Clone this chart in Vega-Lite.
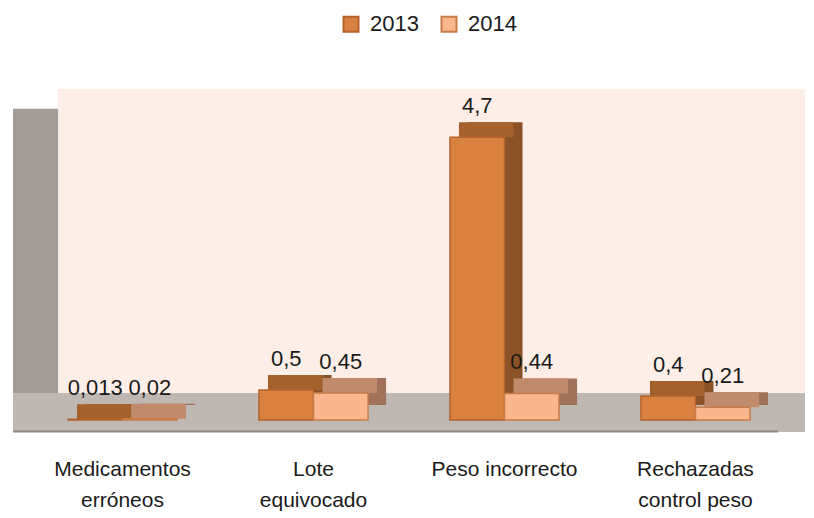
{
  "$schema": "https://vega.github.io/schema/vega-lite/v6.json",
  "width": 792,
  "height": 343,
  "autosize": {"type": "none"},
  "padding": {"left": 13, "top": 89, "right": 9, "bottom": 86},
  "background": "white",
  "config": {
    "view": {"stroke": null},
    "font": "Liberation Sans",
    "locale": {"number": {"decimal": ",", "thousands": ".", "grouping": [3], "currency": ["", " €"]}}
  },
  "data": {"values": [
    {"cat": "Medicamentos erróneos", "year": "2013", "value": 0.013},
    {"cat": "Medicamentos erróneos", "year": "2014", "value": 0.02},
    {"cat": "Lote equivocado", "year": "2013", "value": 0.5},
    {"cat": "Lote equivocado", "year": "2014", "value": 0.45},
    {"cat": "Peso incorrecto", "year": "2013", "value": 4.7},
    {"cat": "Peso incorrecto", "year": "2014", "value": 0.44},
    {"cat": "Rechazadas control peso", "year": "2013", "value": 0.4},
    {"cat": "Rechazadas control peso", "year": "2014", "value": 0.21}
  ]},
  "resolve": {"scale": {"x": "independent"}},
  "layer": [
    {
      "data": {"values": [{}]},
      "layer": [
        {"mark": {"type": "rect", "color": "#FDEEE7"},
         "encoding": {
           "x": {"datum": 5.7, "type": "quantitative", "scale": {"domain": [0, 100], "nice": false, "zero": false}, "axis": null},
           "x2": {"datum": 100},
           "y": {"datum": 0.45, "type": "quantitative", "scale": {"domain": [-0.2, 5.5], "nice": false, "zero": false}, "axis": null},
           "y2": {"datum": 5.5}}},
        {"mark": {"type": "rect", "color": "#A39C98"},
         "encoding": {
           "x": {"datum": 0, "type": "quantitative", "scale": {"domain": [0, 100], "nice": false, "zero": false}, "axis": null},
           "x2": {"datum": 5.7},
           "y": {"datum": 0.1, "type": "quantitative", "scale": {"domain": [-0.2, 5.5], "nice": false, "zero": false}, "axis": null},
           "y2": {"datum": 5.17}}},
        {"mark": {"type": "rect", "color": "#BFB7B2"},
         "encoding": {
           "x": {"datum": 0, "type": "quantitative", "scale": {"domain": [0, 100], "nice": false, "zero": false}, "axis": null},
           "x2": {"datum": 100},
           "y": {"datum": -0.2, "type": "quantitative", "scale": {"domain": [-0.2, 5.5], "nice": false, "zero": false}, "axis": null},
           "y2": {"datum": 0.45}}},
        {"mark": {"type": "rule", "color": "#8E8986", "strokeWidth": 2},
         "encoding": {
           "x": {"datum": 0, "type": "quantitative", "scale": {"domain": [0, 100], "nice": false, "zero": false}, "axis": null},
           "x2": {"datum": 96.6},
           "y": {"datum": -0.19, "type": "quantitative", "scale": {"domain": [-0.2, 5.5], "nice": false, "zero": false}, "axis": null}}}
      ]
    },
    {
      "resolve": {"scale": {"xOffset": "independent"}},
      "encoding": {
        "x": {"field": "cat", "type": "nominal",
              "sort": ["Medicamentos erróneos", "Lote equivocado", "Peso incorrecto", "Rechazadas control peso"],
              "scale": {"paddingInner": 0.429, "paddingOuter": 0.288},
              "axis": {"title": null, "domain": false, "ticks": false, "labelAngle": 0, "labelFontSize": 21,
                       "labelFont": "Liberation Sans", "labelColor": "#1a1a1a", "labelPadding": 26,
                       "labelBaseline": "top", "labelLineHeight": 31,
                       "labelExpr": "datum.value == 'Medicamentos erróneos' ? ['Medicamentos', 'erróneos'] : datum.value == 'Lote equivocado' ? ['Lote', 'equivocado'] : datum.value == 'Rechazadas control peso' ? ['Rechazadas', 'control peso'] : datum.label"}},
        "y": {"field": "value", "type": "quantitative", "scale": {"domain": [-0.2, 5.5], "nice": false, "zero": false}, "axis": null}
      },
      "layer": [
        {"mark": {"type": "bar", "yOffset": -15, "y2Offset": -15},
         "encoding": {
           "xOffset": {"field": "year", "type": "nominal", "scale": {"paddingInner": 0, "paddingOuter": 0, "range": [18, 127.1]}},
           "y2": {"datum": 0},
           "fill": {"condition": {"test": "datum.year == '2013'", "value": "#8C5227"}, "value": "#A07259"}}},
        {"mark": {"type": "bar", "yOffset": -15},
         "encoding": {
           "xOffset": {"field": "year", "type": "nominal", "scale": {"paddingInner": 0, "paddingOuter": 0, "range": [9, 118.1]}},
           "y2": {"field": "value"},
           "fill": {"condition": {"test": "datum.year == '2013'", "value": "#A4612C"}, "value": "#C08A6C"}}},
        {"mark": {"type": "bar", "strokeWidth": 1.5},
         "encoding": {
           "xOffset": {"field": "year", "type": "nominal", "scale": {"paddingInner": 0, "paddingOuter": 0}},
           "y2": {"datum": 0},
           "fill": {"field": "year", "type": "nominal", "scale": {"domain": ["2013", "2014"], "range": ["#D9813E", "#FAB68C"]},
                    "legend": {"title": null, "orient": "none", "legendX": 327, "legendY": -76, "direction": "horizontal",
                               "labelFontSize": 22, "labelFont": "Liberation Sans", "labelColor": "#1a1a1a",
                               "symbolType": "square", "symbolSize": 225, "symbolStrokeWidth": 2,
                               "labelOffset": 8, "columnPadding": 18}},
           "stroke": {"field": "year", "type": "nominal", "scale": {"domain": ["2013", "2014"], "range": ["#B3632B", "#C77C4A"]},
                    "legend": {"title": null, "orient": "none", "legendX": 327, "legendY": -76, "direction": "horizontal",
                               "labelFontSize": 22, "labelFont": "Liberation Sans", "labelColor": "#1a1a1a",
                               "symbolType": "square", "symbolSize": 225, "symbolStrokeWidth": 2,
                               "labelOffset": 8, "columnPadding": 18}}}},
        {"mark": {"type": "text", "fontSize": 22, "font": "Liberation Sans", "color": "#1a1a1a", "baseline": "middle", "dy": -31},
         "encoding": {
           "xOffset": {"field": "year", "type": "nominal", "scale": {"type": "point", "padding": 0.5}},
           "text": {"field": "value", "type": "quantitative", "format": ".3~g"}}}
      ]
    }
  ]
}
